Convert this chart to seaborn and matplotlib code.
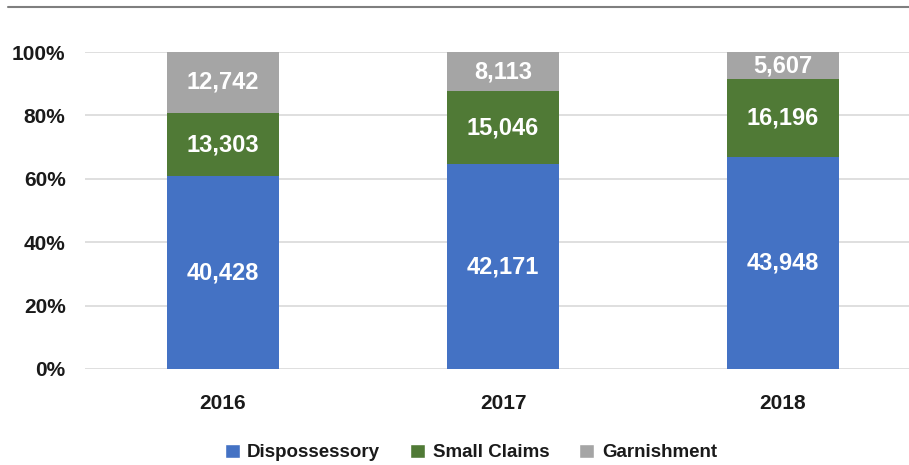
import numpy as np
import pandas as pd
import seaborn as sns
import matplotlib.pyplot as plt
from matplotlib.lines import Line2D
from matplotlib.patches import Patch

years = ['2016', '2017', '2018']
dispossessory = [40428, 42171, 43948]
small_claims = [13303, 15046, 16196]
garnishment = [12742, 8113, 5607]
series = ['Dispossessory', 'Small Claims', 'Garnishment']
colors = ['#4472C4', '#507A36', '#A5A5A5']

df = pd.DataFrame({'year': years, 'Dispossessory': dispossessory,
                   'Small Claims': small_claims, 'Garnishment': garnishment})
total = df[series].sum(axis=1)
share = df[series].div(total, axis=0)
cum = share.cumsum(axis=1)

sns.set_theme(style='white')
plt.rcParams['font.family'] = ['Liberation Sans', 'DejaVu Sans']
plt.rcParams['font.weight'] = 'bold'
plt.rcParams['text.color'] = '#1a1a1a'

fig = plt.figure(figsize=(9.09, 4.65), dpi=100)
ax = fig.add_axes([0.0935, 0.2065, 0.9065, 0.6815])

# stacked bars drawn back to front from cumulative shares
for name, color in reversed(list(zip(series, colors))):
    sns.barplot(x=df['year'], y=cum[name], color=color, width=0.4,
                saturation=1, linewidth=0, ax=ax, zorder=3)

for name in series:
    mid = cum[name] - share[name] / 2
    for i, (m, v) in enumerate(zip(mid, df[name])):
        ax.text(i, m, f'{v:,}', ha='center', va='center', color='white',
                fontsize=17, fontweight='bold', zorder=4)

ax.set_ylim(0, 1)
ax.set_xlim(-0.493, 2.45)
ax.set_yticks(np.arange(0, 1.01, 0.2))
ax.set_yticklabels([f'{int(t * 100)}%' for t in np.arange(0, 1.01, 0.2)])
ax.yaxis.grid(True, color='#d9d9d9', linewidth=1.2, zorder=0)
ax.set_axisbelow(True)
ax.tick_params(axis='y', labelsize=15, pad=14, length=0, labelcolor='#1a1a1a')
ax.tick_params(axis='x', labelsize=15, pad=18, length=0, labelcolor='#1a1a1a')
ax.set_xlabel('')
ax.set_ylabel('')
for s in ax.spines.values():
    s.set_visible(False)

handles = [Patch(facecolor=c, label=n) for n, c in zip(series, colors)]
fig.legend(handles=handles, loc='center', bbox_to_anchor=(0.518, 0.027),
           ncol=3, frameon=False, fontsize=13.5, handlelength=0.8,
           handleheight=0.8, handletextpad=0.4, columnspacing=1.6)

fig.add_artist(Line2D([0.009, 1.0], [0.985, 0.985], color='#7f7f7f', linewidth=1.5))

fig.savefig('out.png', dpi=100)
